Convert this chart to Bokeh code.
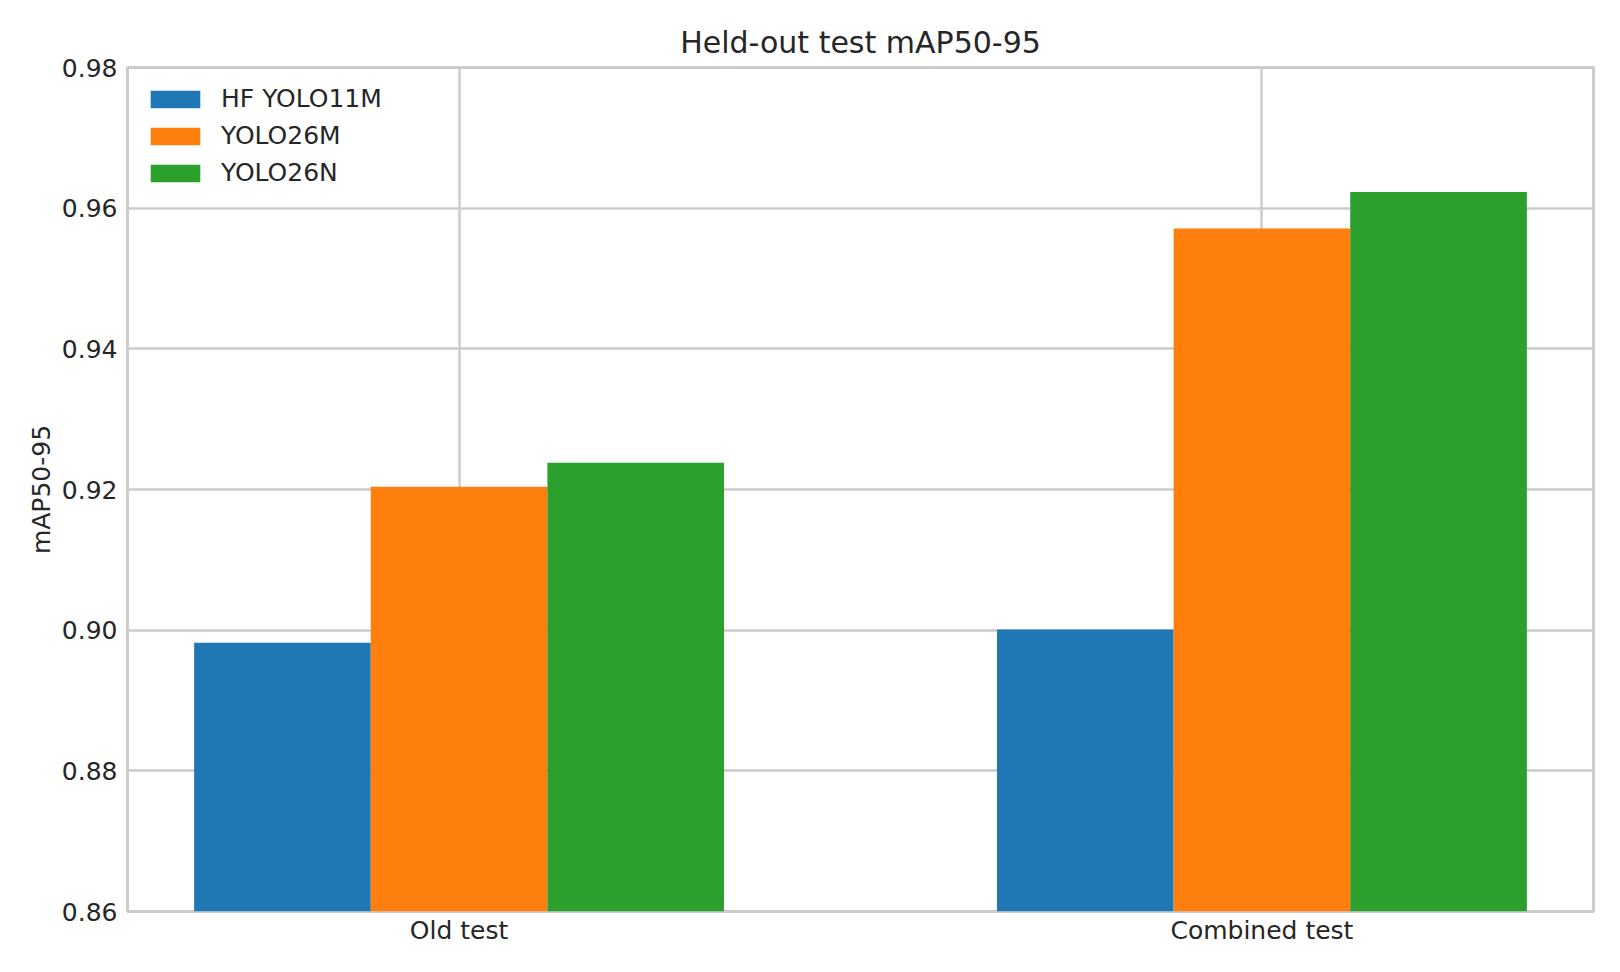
from bokeh.plotting import figure
from bokeh.models import Range1d, FixedTicker, ColumnDataSource, Legend, LegendItem
from bokeh.transform import dodge
from bokeh.embed import file_html
from bokeh.resources import INLINE

# ---- data ----
categories = ["Old test", "Combined test"]
models = ["HF YOLO11M", "YOLO26M", "YOLO26N"]
hf_yolo11m = [0.8982, 0.9001]
yolo26m = [0.9204, 0.9571]
yolo26n = [0.9238, 0.9623]
y_ticks = [0.86, 0.88, 0.90, 0.92, 0.94, 0.96, 0.98]
colors = ["#1f77b4", "#ff7f0e", "#2ca02c"]

x_pos = list(range(len(categories)))
source = ColumnDataSource(dict(x=x_pos, hf=hf_yolo11m, m=yolo26m, n=yolo26n))

FONT = "DejaVu Sans"
TXT = "#262626"
GRID = "#cccccc"

p = figure(
    frame_width=1466, frame_height=844,
    min_border_left=127, min_border_right=11, min_border_top=67, min_border_bottom=45,
    x_range=Range1d(-0.413, 1.413), y_range=Range1d(0.86, 0.98),
    output_backend="svg", toolbar_location=None, title="Held-out test mAP50-95",
)

bar_w = 0.22
r1 = p.vbar(x=dodge("x", -bar_w, range=p.x_range), top="hf", bottom=0, width=bar_w,
            source=source, fill_color=colors[0], line_color=None)
r2 = p.vbar(x=dodge("x", 0.0, range=p.x_range), top="m", bottom=0, width=bar_w,
            source=source, fill_color=colors[1], line_color=None)
r3 = p.vbar(x=dodge("x", bar_w, range=p.x_range), top="n", bottom=0, width=bar_w,
            source=source, fill_color=colors[2], line_color=None)

legend = Legend(items=[LegendItem(label=models[0], renderers=[r1]),
                       LegendItem(label=models[1], renderers=[r2]),
                       LegendItem(label=models[2], renderers=[r3])],
                location="top_left")
legend.background_fill_alpha = 0
legend.border_line_alpha = 0
legend.margin = 7
legend.padding = 10
legend.glyph_width = 62
legend.glyph_height = 22
legend.label_height = 22
legend.spacing = 8
legend.label_standoff = 15
legend.label_text_font = FONT
legend.label_text_font_size = "25px"
legend.label_text_color = TXT
legend.label_text_baseline = "middle"
p.add_layout(legend)

# title
p.title.text_font = FONT
p.title.text_font_size = "30px"
p.title.text_font_style = "normal"
p.title.text_color = TXT
p.title.align = "center"
p.title.standoff = 15

# axes
p.xaxis.ticker = FixedTicker(ticks=x_pos)
p.xaxis.major_label_overrides = {i: c for i, c in zip(x_pos, categories)}
p.yaxis.ticker = FixedTicker(ticks=y_ticks)
p.yaxis.major_label_overrides = {t: f"{t:.2f}" for t in y_ticks}
p.yaxis.axis_label = "mAP50-95"
for ax in (p.xaxis[0], p.yaxis[0]):
    ax.axis_line_color = None
    ax.major_tick_line_color = None
    ax.minor_tick_line_color = None
    ax.major_tick_out = 0
    ax.major_tick_in = 0
    ax.minor_tick_out = 0
    ax.major_label_text_font = FONT
    ax.major_label_text_font_size = "25px"
    ax.major_label_text_color = TXT
    ax.axis_label_text_font = FONT
    ax.axis_label_text_font_size = "25px"
    ax.axis_label_text_font_style = "normal"
    ax.axis_label_text_color = TXT
p.xaxis.major_label_standoff = 4
p.yaxis.major_label_standoff = 10
p.yaxis.axis_label_standoff = 3

p.xgrid.ticker = FixedTicker(ticks=x_pos)
p.ygrid.ticker = FixedTicker(ticks=y_ticks)
p.grid.grid_line_color = GRID
p.grid.grid_line_width = 2.5
p.outline_line_color = GRID
p.outline_line_width = 3
p.background_fill_color = "white"
p.border_fill_color = "white"

open("out.html", "w").write(file_html(p, INLINE))
